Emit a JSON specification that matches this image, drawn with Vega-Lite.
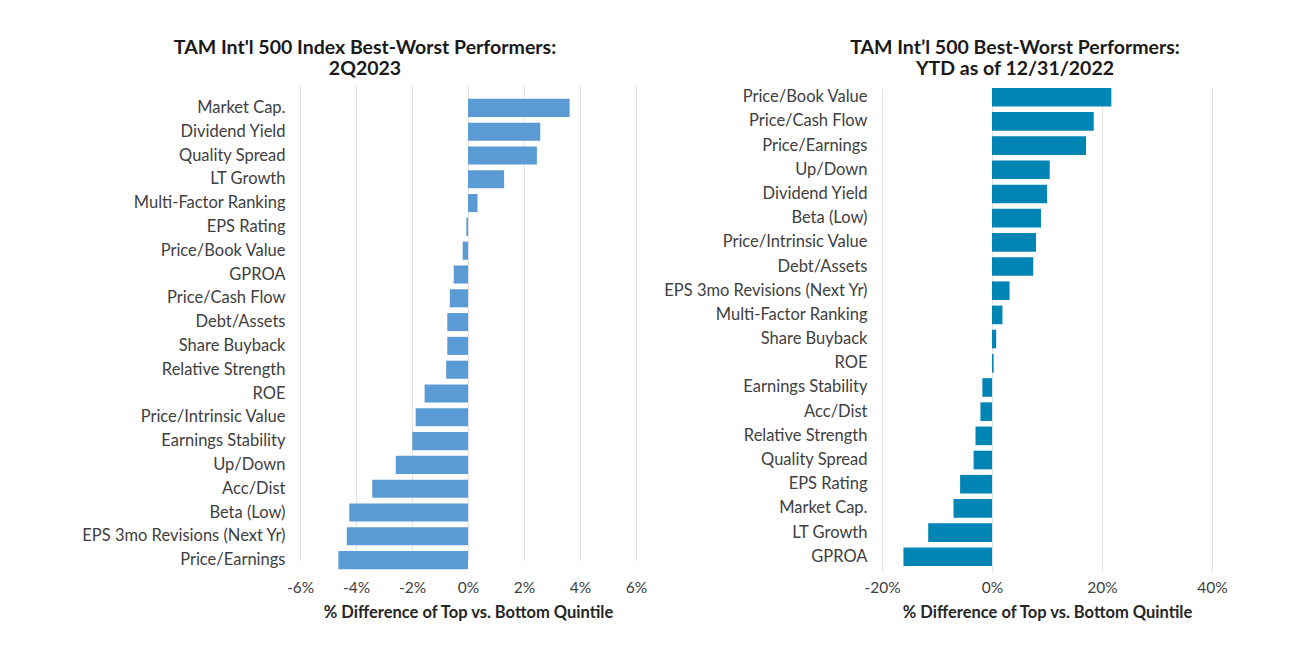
{
  "$schema": "https://vega.github.io/schema/vega-lite/v6.json",
  "background": "white",
  "padding": {"left": 78, "top": 37, "right": 5, "bottom": 5},
  "spacing": 13,
  "datasets": {
    "q2": [
      {"factor": "Market Cap.", "diff": 3.63},
      {"factor": "Dividend Yield", "diff": 2.58},
      {"factor": "Quality Spread", "diff": 2.46},
      {"factor": "LT Growth", "diff": 1.29},
      {"factor": "Multi-Factor Ranking", "diff": 0.34},
      {"factor": "EPS Rating", "diff": -0.06},
      {"factor": "Price/Book Value", "diff": -0.19},
      {"factor": "GPROA", "diff": -0.51},
      {"factor": "Price/Cash Flow", "diff": -0.65},
      {"factor": "Debt/Assets", "diff": -0.74},
      {"factor": "Share Buyback", "diff": -0.74},
      {"factor": "Relative Strength", "diff": -0.78},
      {"factor": "ROE", "diff": -1.55},
      {"factor": "Price/Intrinsic Value", "diff": -1.87},
      {"factor": "Earnings Stability", "diff": -1.99},
      {"factor": "Up/Down", "diff": -2.58},
      {"factor": "Acc/Dist", "diff": -3.42},
      {"factor": "Beta (Low)", "diff": -4.24},
      {"factor": "EPS 3mo Revisions (Next Yr)", "diff": -4.33},
      {"factor": "Price/Earnings", "diff": -4.63}
    ],
    "ytd": [
      {"factor": "Price/Book Value", "diff": 21.7},
      {"factor": "Price/Cash Flow", "diff": 18.5},
      {"factor": "Price/Earnings", "diff": 17.1},
      {"factor": "Up/Down", "diff": 10.5},
      {"factor": "Dividend Yield", "diff": 10.0},
      {"factor": "Beta (Low)", "diff": 8.9},
      {"factor": "Price/Intrinsic Value", "diff": 8.0},
      {"factor": "Debt/Assets", "diff": 7.5},
      {"factor": "EPS 3mo Revisions (Next Yr)", "diff": 3.2},
      {"factor": "Multi-Factor Ranking", "diff": 1.9},
      {"factor": "Share Buyback", "diff": 0.76},
      {"factor": "ROE", "diff": 0.3},
      {"factor": "Earnings Stability", "diff": -1.75},
      {"factor": "Acc/Dist", "diff": -2.1},
      {"factor": "Relative Strength", "diff": -3.0},
      {"factor": "Quality Spread", "diff": -3.35},
      {"factor": "EPS Rating", "diff": -5.8},
      {"factor": "Market Cap.", "diff": -7.0},
      {"factor": "LT Growth", "diff": -11.6},
      {"factor": "GPROA", "diff": -16.1}
    ]
  },
  "config": {
    "font": "Lato",
    "view": {"stroke": null},
    "title": {"font": "Lato", "fontSize": 19.5, "fontWeight": "bold", "color": "#1a1a1a", "lineHeight": 21, "anchor": "middle", "frame": "group"},
    "axis": {"labelFont": "Lato", "labelFontSize": 15.5, "labelColor": "#404040", "titleFont": "Lato", "titleFontSize": 16.5, "titleFontWeight": "bold", "titleColor": "#262626", "domain": false, "ticks": false, "labelLimit": 400, "labelFlush": false}
  },
  "hconcat": [
    {
      "width": 336,
      "height": 487,
      "title": {"text": ["TAM Int'l 500 Index Best-Worst Performers:", "2Q2023"], "offset": 6, "dx": -103},
      "data": {"name": "q2"},
      "mark": {"type": "bar", "color": "#5B9BD5"},
      "encoding": {
        "y": {"field": "factor", "type": "nominal", "sort": null, "title": null,
              "scale": {"range": [11, 487], "paddingInner": 0.24, "paddingOuter": 0.12},
              "axis": {"labelPadding": 15, "labelFontSize": 16.5, "minExtent": 222, "maxExtent": 222, "grid": false}},
        "x": {"field": "diff", "type": "quantitative", "title": "% Difference of Top vs. Bottom Quintile",
              "scale": {"domain": [-6, 6], "nice": false},
              "axis": {"values": [-6, -4, -2, 0, 2, 4, 6], "labelExpr": "datum.value + '%'", "labelPadding": 8, "titlePadding": 9, "grid": true, "gridColor": "#e3e3e3"}}
      }
    },
    {
      "width": 330,
      "height": 487,
      "title": {"text": ["TAM Int’l 500 Best-Worst Performers:", "YTD as of 12/31/2022"], "offset": 6, "dx": -32},
      "data": {"name": "ytd"},
      "mark": {"type": "bar", "color": "#0085B4"},
      "encoding": {
        "y": {"field": "factor", "type": "nominal", "sort": null, "title": null,
              "scale": {"range": [0, 484], "paddingInner": 0.23, "paddingOuter": 0.12},
              "axis": {"labelPadding": 15, "labelFontSize": 16.5, "minExtent": 222, "maxExtent": 222, "grid": false}},
        "x": {"field": "diff", "type": "quantitative", "title": "% Difference of Top vs. Bottom Quintile",
              "scale": {"domain": [-20, 40], "nice": false},
              "axis": {"values": [-20, 0, 20, 40], "labelExpr": "datum.value + '%'", "labelPadding": 8, "titlePadding": 9, "grid": true, "gridColor": "#e3e3e3"}}
      }
    }
  ]
}
